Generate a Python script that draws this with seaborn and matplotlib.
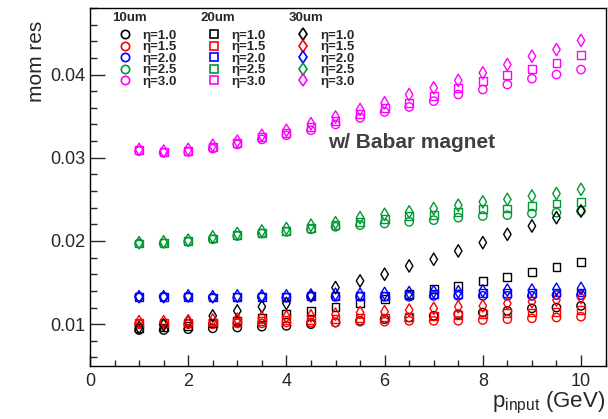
import numpy as np
import pandas as pd
import matplotlib
matplotlib.use("Agg")
import matplotlib.pyplot as plt
from matplotlib.lines import Line2D
from matplotlib.ticker import MultipleLocator
import seaborn as sns

# momentum points (GeV)
p_input = [1.0, 1.5, 2.0, 2.5, 3.0, 3.5, 4.0, 4.5, 5.0, 5.5,
           6.0, 6.5, 7.0, 7.5, 8.0, 8.5, 9.0, 9.5, 10.0]

etas = ["1.0", "1.5", "2.0", "2.5", "3.0"]
pitches = ["10um", "20um", "30um"]

# 10um pitch
res_10um_eta10 = [0.0093, 0.0093, 0.0094, 0.0095, 0.0096, 0.0097, 0.0098, 0.0100, 0.0102, 0.0104,
                  0.0106, 0.0108, 0.0110, 0.0112, 0.0114, 0.0116, 0.0119, 0.0120, 0.0122]
res_10um_eta15 = [0.0100, 0.0100, 0.0100, 0.0100, 0.0101, 0.0101, 0.0102, 0.0102, 0.0102, 0.0103,
                  0.0103, 0.0104, 0.0104, 0.0104, 0.0105, 0.0106, 0.0107, 0.0108, 0.0109]
res_10um_eta20 = [0.0133, 0.0133, 0.0133, 0.0132, 0.0132, 0.0133, 0.0132, 0.0133, 0.0133, 0.0133,
                  0.0133, 0.0133, 0.0134, 0.0134, 0.0134, 0.0134, 0.0134, 0.0135, 0.0135]
res_10um_eta25 = [0.0197, 0.0197, 0.0199, 0.0202, 0.0206, 0.0209, 0.0211, 0.0214, 0.0217, 0.0219,
                  0.0221, 0.0223, 0.0225, 0.0228, 0.0230, 0.0231, 0.0233, 0.0234, 0.0236]
res_10um_eta30 = [0.0308, 0.0306, 0.0307, 0.0311, 0.0316, 0.0322, 0.0327, 0.0333, 0.0340, 0.0348,
                  0.0355, 0.0361, 0.0368, 0.0376, 0.0382, 0.0388, 0.0395, 0.0400, 0.0406]

# 20um pitch
res_20um_eta10 = [0.0095, 0.0096, 0.0098, 0.0101, 0.0104, 0.0108, 0.0112, 0.0116, 0.0121, 0.0125,
                  0.0130, 0.0136, 0.0142, 0.0146, 0.0152, 0.0157, 0.0163, 0.0169, 0.0175]
res_20um_eta15 = [0.0101, 0.0101, 0.0102, 0.0102, 0.0103, 0.0104, 0.0105, 0.0105, 0.0106, 0.0107,
                  0.0108, 0.0109, 0.0110, 0.0111, 0.0112, 0.0113, 0.0114, 0.0115, 0.0117]
res_20um_eta20 = [0.0133, 0.0133, 0.0133, 0.0132, 0.0133, 0.0133, 0.0133, 0.0134, 0.0134, 0.0134,
                  0.0134, 0.0135, 0.0136, 0.0136, 0.0137, 0.0137, 0.0137, 0.0138, 0.0138]
res_20um_eta25 = [0.0197, 0.0198, 0.0200, 0.0203, 0.0207, 0.0210, 0.0212, 0.0216, 0.0219, 0.0223,
                  0.0226, 0.0230, 0.0231, 0.0235, 0.0238, 0.0239, 0.0242, 0.0245, 0.0247]
res_20um_eta30 = [0.0309, 0.0307, 0.0308, 0.0313, 0.0318, 0.0325, 0.0330, 0.0337, 0.0344, 0.0353,
                  0.0360, 0.0366, 0.0374, 0.0384, 0.0392, 0.0399, 0.0407, 0.0414, 0.0423]

# 30um pitch
res_30um_eta10 = [0.0096, 0.0099, 0.0103, 0.0110, 0.0116, 0.0121, 0.0125, 0.0134, 0.0144, 0.0152,
                  0.0160, 0.0170, 0.0178, 0.0188, 0.0198, 0.0208, 0.0218, 0.0228, 0.0236]
res_30um_eta15 = [0.0103, 0.0103, 0.0104, 0.0105, 0.0106, 0.0108, 0.0109, 0.0110, 0.0112, 0.0114,
                  0.0115, 0.0117, 0.0119, 0.0121, 0.0122, 0.0125, 0.0127, 0.0129, 0.0132]
res_30um_eta20 = [0.0133, 0.0133, 0.0134, 0.0133, 0.0134, 0.0134, 0.0134, 0.0135, 0.0136, 0.0136,
                  0.0137, 0.0138, 0.0139, 0.0139, 0.0140, 0.0141, 0.0141, 0.0142, 0.0143]
res_30um_eta25 = [0.0198, 0.0199, 0.0201, 0.0205, 0.0209, 0.0212, 0.0215, 0.0219, 0.0222, 0.0228,
                  0.0232, 0.0235, 0.0239, 0.0243, 0.0247, 0.0250, 0.0254, 0.0257, 0.0262]
res_30um_eta30 = [0.0310, 0.0308, 0.0310, 0.0315, 0.0320, 0.0327, 0.0333, 0.0341, 0.0349, 0.0358,
                  0.0366, 0.0376, 0.0384, 0.0393, 0.0402, 0.0412, 0.0422, 0.0430, 0.0441]

res = {
    "10um": [res_10um_eta10, res_10um_eta15, res_10um_eta20, res_10um_eta25, res_10um_eta30],
    "20um": [res_20um_eta10, res_20um_eta15, res_20um_eta20, res_20um_eta25, res_20um_eta30],
    "30um": [res_30um_eta10, res_30um_eta15, res_30um_eta20, res_30um_eta25, res_30um_eta30],
}

rows = []
for pitch in pitches:
    for eta, vals in zip(etas, res[pitch]):
        for p, r in zip(p_input, vals):
            rows.append({"p": p, "res": r, "eta": eta, "pitch": pitch})
df = pd.DataFrame(rows)

colors = {"1.0": "black", "1.5": "#ff0000", "2.0": "#0000ff", "2.5": "#009933", "3.0": "#ff00ff"}
markers = {"10um": "o", "20um": "s", "30um": "d"}
sizes = {"10um": 36, "20um": 32, "30um": 40}

sns.set_style("ticks")
plt.rcParams["font.family"] = ["Liberation Sans", "DejaVu Sans"]
plt.rcParams["mathtext.fontset"] = "custom"
plt.rcParams["mathtext.rm"] = "Liberation Sans"
plt.rcParams["mathtext.it"] = "Liberation Sans"

fig = plt.figure(figsize=(6.08, 4.19), dpi=100)
ax = fig.add_axes([0.148, 0.127, 0.848, 0.854])

for pitch in pitches:
    sub = df[df["pitch"] == pitch]
    sns.scatterplot(data=sub, x="p", y="res", hue="eta", palette=colors,
                    marker=markers[pitch], s=sizes[pitch], linewidth=1.0,
                    legend=False, ax=ax)

# hollow markers like the ROOT style
for coll in ax.collections:
    fc = coll.get_facecolors()
    coll.set_edgecolors(fc)
    coll.set_facecolors("none")

ax.set_xlim(0, 10.5)
ax.set_ylim(0.005, 0.048)
ax.xaxis.set_major_locator(MultipleLocator(2))
ax.xaxis.set_minor_locator(MultipleLocator(0.5))
ax.yaxis.set_major_locator(MultipleLocator(0.01))
ax.yaxis.set_minor_locator(MultipleLocator(0.002))
ax.yaxis.set_major_formatter(matplotlib.ticker.FormatStrFormatter("%g"))
ax.tick_params(axis="y", which="major", direction="in", length=11, width=1, labelsize=13, pad=3)
ax.tick_params(axis="y", which="minor", direction="in", length=5, width=1)
ax.tick_params(axis="x", which="major", direction="in", length=8, width=1, labelsize=13, pad=5)
ax.tick_params(axis="x", which="minor", direction="in", length=4, width=1)
for sp in ax.spines.values():
    sp.set_visible(True)
    sp.set_linewidth(1.0)
    sp.set_color("black")

ax.set_xlabel(r"p$_{\mathrm{input}}$ (GeV)", fontsize=16, loc="right")
ax.xaxis.set_label_coords(1.0, -0.066)
ax.set_ylabel("mom res", fontsize=15, loc="top")
ax.yaxis.set_label_coords(-0.085, 0.965)

# legend: three columns, one per pitch
handles = []
labels = []
for pitch in pitches:
    for eta in etas:
        handles.append(Line2D([], [], linestyle="none", marker=markers[pitch],
                              markerfacecolor="none", markeredgecolor=colors[eta],
                              markersize=6, markeredgewidth=1.2))
        labels.append("\u03b7=" + eta)
leg = ax.legend(handles, labels, ncol=3, loc="upper left", bbox_to_anchor=(0.045, 0.955),
                frameon=False, prop={"weight": "bold", "size": 9.5}, handlelength=1.0,
                handletextpad=0.8, columnspacing=2.35, labelspacing=-0.05, borderaxespad=0)
for x0, pitch in zip([0.043, 0.214, 0.385], pitches):
    ax.text(x0, 0.988, pitch, transform=ax.transAxes, fontsize=9.5, fontweight="bold",
            ha="left", va="top")

ax.text(4.85, 0.0312, "w/ Babar magnet", fontsize=15, fontweight="bold", color="#404040")

fig.savefig("out.png", dpi=100)
